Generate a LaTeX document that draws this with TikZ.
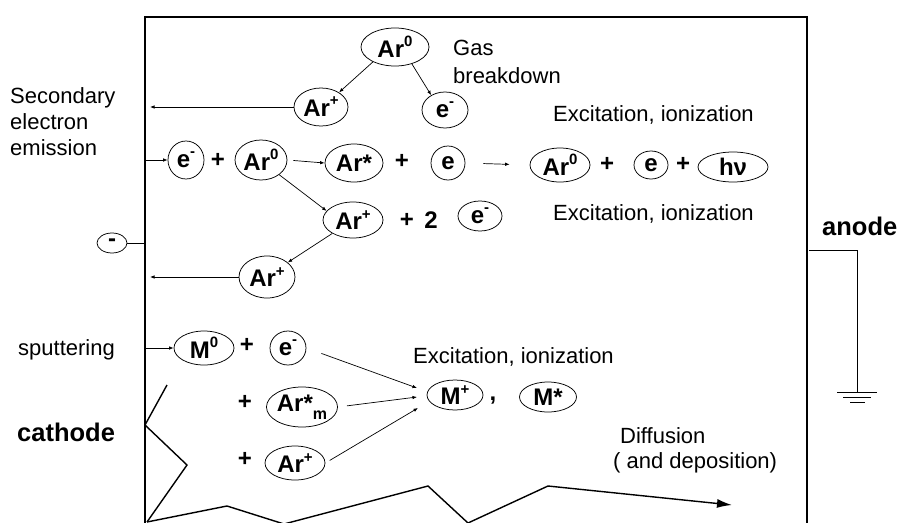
\documentclass[tikz,border=0pt]{standalone}
\usepackage{fontspec}
\setmainfont{Liberation Sans}
\usetikzlibrary{shapes.geometric,arrows.meta}
% raised and lowered indices for the species labels
\newcommand\hisup[1]{\raisebox{0.45em}{\fontsize{15}{15}\selectfont #1}}
\newcommand\losub[1]{\raisebox{-0.35em}{\fontsize{16}{16}\selectfont #1}}

\begin{document}
\begin{tikzpicture}[x=1pt,y=-1pt,
  species/.style 2 args={ellipse,draw,line width=0.75pt,inner sep=0pt,
    minimum width=#1,minimum height=#2,font=\bfseries\fontsize{24}{24}\selectfont},
  op/.style={inner sep=0pt,font=\bfseries\fontsize{24}{24}\selectfont},
  note/.style={inner sep=0pt,anchor=west,align=left,font=\fontsize{22}{26}\selectfont},
  electrode/.style={inner sep=0pt,anchor=west,font=\bfseries\fontsize{25.5}{26}\selectfont},
  wall/.style={line width=1.8pt},
  surface/.style={line width=1.4pt},
  wire/.style={line width=0.8pt},
  flow/.style={line width=0.7pt,-{Latex[length=4.5pt,width=3.5pt]}}
]
\useasboundingbox (0,0) rectangle (899,522);

% discharge chamber walls and rough cathode surface
\coordinate (TL) at (145,17);
\begin{scope}
  \clip (0,0) rectangle (899,522);
  \draw[wall] (145,526) -- (145,17) -- (807,17) -- (807,526);
  \draw[surface] (167,385) -- (145,425) -- (187,465) -- (147,522);
  \draw[surface,-{Latex[length=15pt,width=9pt]}]
    (147,522) -- (227,506) -- (284,524) -- (428,486) -- (468,523)
    -- (548,486) -- (732,505);
\end{scope}

% anode connection to ground
\draw[wire] (809,250) -- (857,250) -- (857,392);
\draw[wire] (837,392) -- (877,392);
\draw[wire] (843,397) -- (871,397);
\draw[wire] (850,402) -- (865,402);

% labels
\node[note,font=\fontsize{22}{28}\selectfont] (gas) at (453,62) {Gas\\breakdown};
\node[note] (sec) at (10,122) {Secondary\\electron\\emission};
\node[note] (exc1) at (553,115) {Excitation, ionization};
\node[note] (exc2) at (553,214) {Excitation, ionization};
\node[note] (exc3) at (413,357) {Excitation, ionization};
\node[note] (sput) at (18,350) {sputtering};
\node[note,font=\fontsize{22}{25}\selectfont] (diff) at (613,450) {\hspace*{7pt}Diffusion\\( and deposition)};
\node[electrode] (anode) at (822,226) {anode};
\node[electrode] (cathode) at (17,432) {cathode};

% gas breakdown
\node[species={68}{38}] (arA) at (395,47) {Ar\hisup{0}};
\node[species={54}{38}] (arP1) at (321,107) {Ar\hisup{+}};
\node[species={46}{36}] (eA) at (445,110) {e\hisup{-}};

% electron impact row
\node[species={36}{38}] (eB) at (186,160) {e\hisup{-}};
\node[op] (o1) at (218,160) {+};
\node[species={52}{40}] (arB) at (261,160) {Ar\hisup{0}};
\node[species={58}{38}] (arS) at (354,163) {Ar*};
\node[op] (o2) at (402,161) {+};
\node[species={34}{34}] (eC) at (448,163) {e};
\node[species={60}{34}] (arC) at (560,165) {Ar\hisup{0}};
\node[op] (o3) at (607,164) {+};
\node[species={34}{28}] (eE) at (651,165) {e};
\node[op] (o4) at (683,164) {+};
\node[species={70}{30}] (hnu) at (733,167) {hν};

% ionization row
\node[species={60}{36}] (arP2) at (353,220) {Ar\hisup{+}};
\node[op] (o5) at (407,220) {+};
\node[op] (two) at (431,220) {2};
\node[species={44}{30}] (eF) at (480,216) {e\hisup{-}};
\node[species={56}{42}] (arP3) at (267,277) {Ar\hisup{+}};
\node[species={30}{20}] (minus) at (112,243) {-};

% sputtered metal
\node[species={60}{34}] (mZ) at (204,348) {M\hisup{0}};
\node[op] (o6) at (247,345) {+};
\node[species={36}{34}] (eD) at (288,348) {e\hisup{-}};
\node[op] (o7) at (245,402) {+};
\node[species={71}{40}] (arM) at (302,407) {Ar*\losub{m}};
\node[op] (o8) at (245,459) {+};
\node[species={60}{34}] (arP4) at (295,463) {Ar\hisup{+}};
\node[species={56}{30}] (mP) at (455,395) {M\hisup{+}};
\node[op] (comma) at (493,401) {,};
\node[species={57}{30}] (mS) at (548,397) {M*};

\coordinate (tipA) at (417,388);
\coordinate (tipB) at (417,397);
\coordinate (tipC) at (418,408);

% connectors
\draw[flow] (arA.214) -- (arP1.39);
\draw[flow] (arA.-45) -- (eA.133);
\draw[flow,shorten >=5pt] (arP1.west) -- (arP1.west -| TL);
\draw[flow] (eB.west -| TL) -- (eB.west);
\draw[flow,shorten <=6pt] (arB.east) -- (arS.west);
\draw[flow,shorten <=18pt,shorten >=20pt] (eC.east) -- (arC.west);
\draw[flow] (arB.-39) -- (arP2.161);
\draw[flow] (arP2.213) -- (arP3.35);
\draw[flow,shorten >=5pt] (arP3.west) -- (arP3.west -| TL);
\draw[wire] (minus.east) -- (minus.east -| TL);
\draw[flow] (mZ.west -| TL) -- (mZ.west);
\draw[flow,shorten <=16pt] (eD.east) -- (tipA);
\draw[flow,shorten <=9pt] (arM.east) -- (tipB);
\draw[flow,shorten <=5pt] (arP4.east) -- (tipC);
\end{tikzpicture}
\end{document}
